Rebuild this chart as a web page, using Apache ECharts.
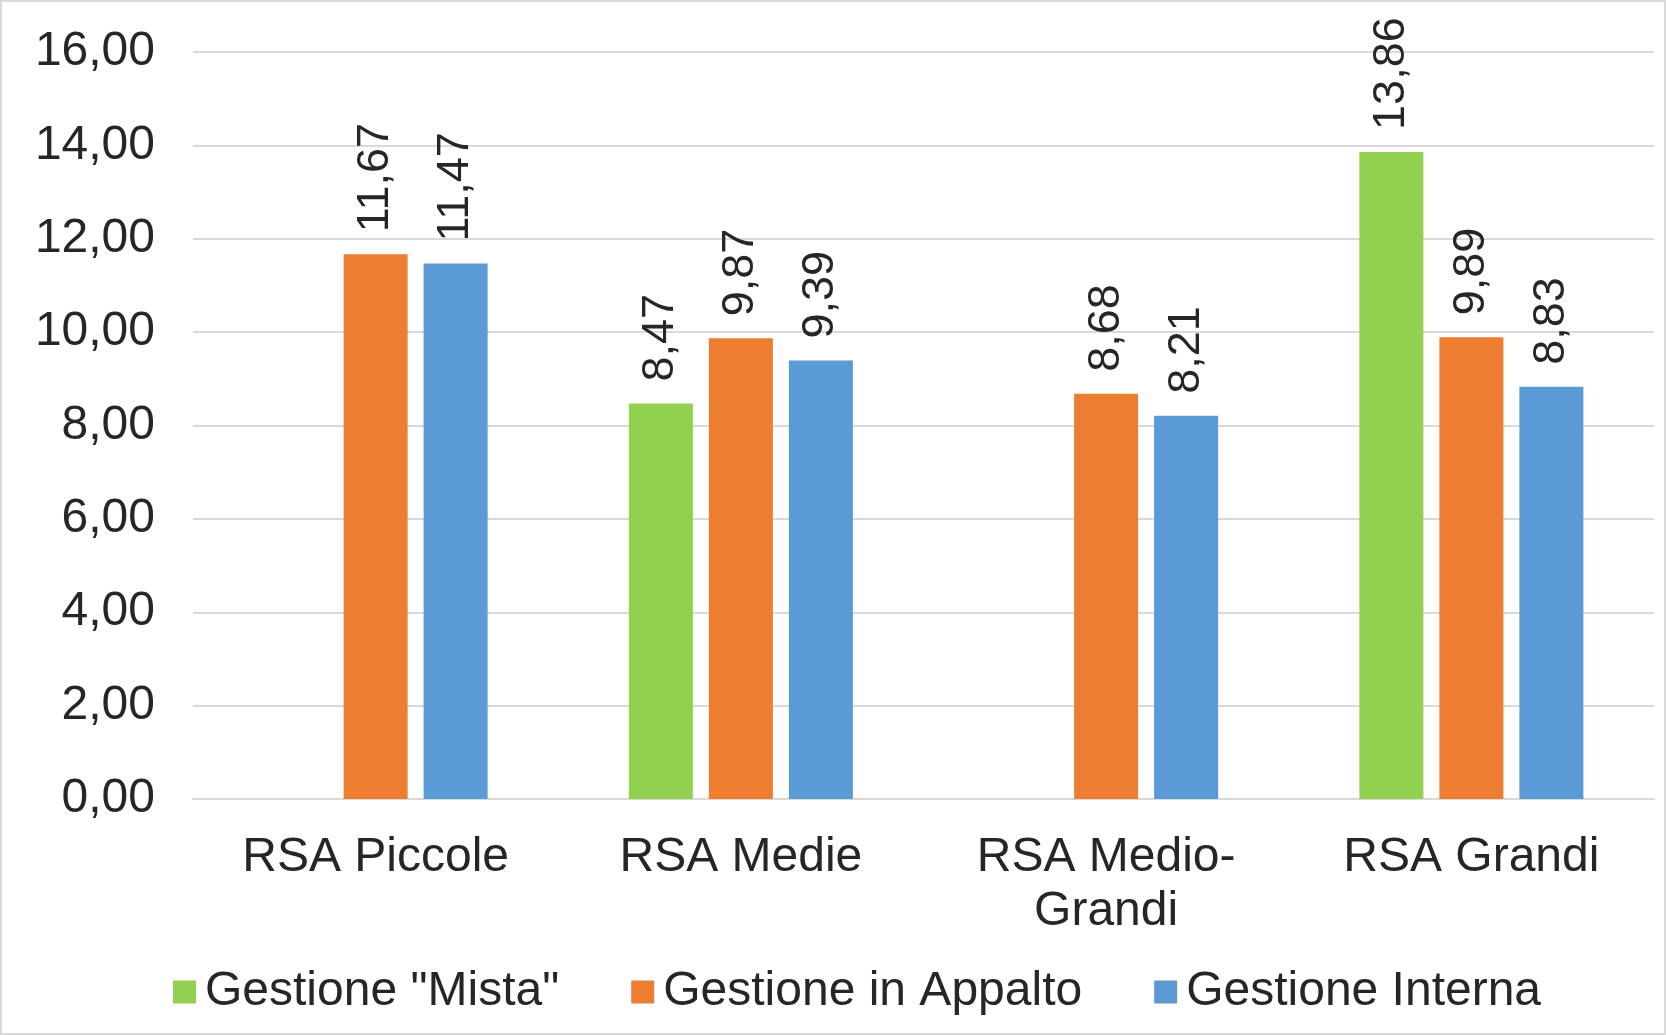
<!DOCTYPE html>
<html><head><meta charset="utf-8">
<script src="https://cdn.jsdelivr.net/npm/echarts@6/dist/echarts.min.js"></script>
<style>html,body{margin:0;padding:0;background:#fff}#c{width:1666px;height:1035px;box-sizing:border-box;border:2px solid #d9d9d9}</style>
</head><body><div id="c"></div>
<script>
var categories=["RSA Piccole","RSA Medie","RSA Medio-\nGrandi","RSA Grandi"];
var mista=[null,8.47,null,13.86];
var appalto=[11.67,9.87,8.68,9.89];
var interna=[11.47,9.39,8.21,8.83];
var names=['Gestione "Mista"',"Gestione in Appalto","Gestione Interna"];
var colors=["#92d050","#ed7d31","#5b9bd5"];
var font="Liberation Sans, Arial, sans-serif";
var tc="#262626";
function s(n,d,c){return {name:n,type:"bar",data:d,barWidth:64,barGap:"25%",itemStyle:{color:c},
label:{show:true,position:"top",rotate:90,align:"left",verticalAlign:"middle",distance:22,fontSize:45,color:tc,fontFamily:font,
formatter:function(p){return p.value.toFixed(2).replace(".",",");}}};}
var ch=echarts.init(document.getElementById("c"));
ch.setOption({animation:false,
grid:{left:191,right:10,top:50,bottom:234,containLabel:false},
legend:{left:166,bottom:12,itemWidth:23,itemHeight:23,itemGap:72,icon:"rect",textStyle:{fontSize:48,color:tc,fontFamily:font,padding:[0,0,0,4]},data:names},
xAxis:{type:"category",data:categories,axisTick:{show:false},axisLine:{lineStyle:{color:"#d9d9d9",width:2}},
axisLabel:{fontSize:48,color:tc,fontFamily:font,margin:32,lineHeight:54}},
yAxis:{type:"value",min:0,max:16,interval:2,axisLine:{show:false},axisTick:{show:false},
splitLine:{lineStyle:{color:"#d9d9d9",width:2}},
axisLabel:{fontSize:48,color:tc,fontFamily:font,margin:38,formatter:function(v){return v.toFixed(2).replace(".",",");}}},
series:[s(names[0],mista,colors[0]),s(names[1],appalto,colors[1]),s(names[2],interna,colors[2])]});
</script></body></html>
